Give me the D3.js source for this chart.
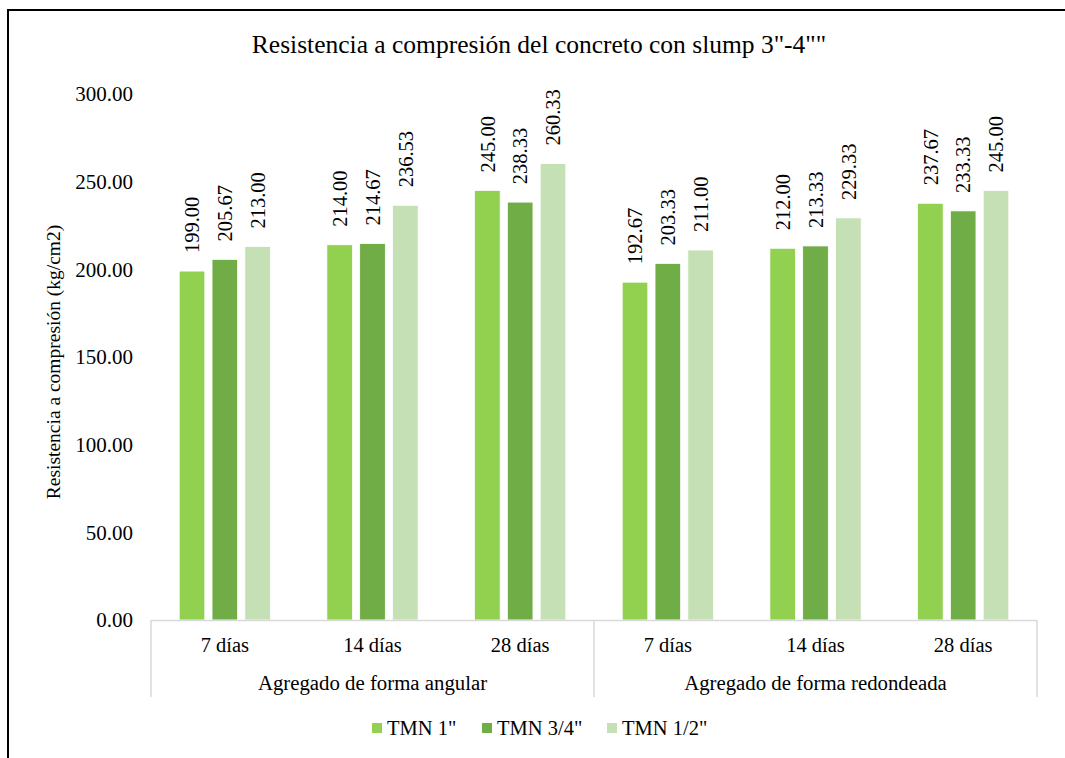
<!DOCTYPE html>
<html>
<head>
<meta charset="utf-8">
<script src="https://cdn.jsdelivr.net/npm/d3@7"></script>
<style>
  html, body { margin: 0; padding: 0; background: #fff; }
  svg text { font-family: "Liberation Serif", "Times New Roman", serif; fill: #000; }
</style>
</head>
<body>
<svg id="chart" width="1065" height="758"></svg>
<script>
const title = 'Resistencia a compresión del concreto con slump 3"-4""';
const yTitle = "Resistencia a compresión (kg/cm2)";
const groups = ["Agregado de forma angular", "Agregado de forma redondeada"];
const ages = ["7 días", "14 días", "28 días"];
const seriesNames = ['TMN 1"', 'TMN 3/4"', 'TMN 1/2"'];
const seriesColors = ["#92d050", "#70ad47", "#c5e0b4"];
const tmn1 = [199.00, 214.00, 245.00, 192.67, 212.00, 237.67];
const tmn34 = [205.67, 214.67, 238.33, 203.33, 213.33, 233.33];
const tmn12 = [213.00, 236.53, 260.33, 211.00, 229.33, 245.00];
const yTicks = [0, 50, 100, 150, 200, 250, 300];

const svg = d3.select("#chart");
const plot = { left: 151, right: 1037, top: 94, bottom: 620 };

// frame
svg.append("path")
  .attr("d", "M8,758 L8,10 L1065,10")
  .attr("fill", "none").attr("stroke", "#000").attr("stroke-width", 2);

// title
svg.append("text").attr("x", 539).attr("y", 53)
  .attr("text-anchor", "middle").style("font-size", "25.5px").text(title);

const cats = [];
groups.forEach((g, gi) => ages.forEach((a, ai) => cats.push({ key: gi + "|" + a, group: g, age: a, idx: gi * 3 + ai })));
const seriesVals = [tmn1, tmn34, tmn12];

const x0 = d3.scaleBand().domain(cats.map(c => c.key)).range([plot.left, plot.right]).padding(0);
const x1 = d3.scaleBand().domain(seriesNames).range([0, x0.bandwidth()]).paddingInner(0.22).paddingOuter(0.86);
const y = d3.scaleLinear().domain([0, 300]).range([plot.bottom, plot.top]);

// y tick labels
const yAxis = d3.axisLeft(y).tickValues(yTicks).tickFormat(d3.format(".2f")).tickSize(0).tickPadding(0);
const yg = svg.append("g").attr("transform", `translate(133,0)`).call(yAxis);
yg.select(".domain").remove();
yg.selectAll("text").style("font-size", "21px").style("font-family", '"Liberation Serif", serif').attr("fill", "#000").attr("dy", "0.33em");

// y title
svg.append("text")
  .attr("transform", `translate(60,362) rotate(-90)`)
  .attr("text-anchor", "middle").style("font-size", "19.5px").text(yTitle);

// bars
cats.forEach(c => {
  const g = svg.append("g").attr("transform", `translate(${x0(c.key)},0)`);
  seriesNames.forEach((s, si) => {
    const v = seriesVals[si][c.idx];
    g.append("rect")
      .attr("x", x1(s)).attr("width", x1.bandwidth())
      .attr("y", y(v)).attr("height", y(0) - y(v))
      .attr("fill", seriesColors[si]).attr("stroke", "#fff").attr("stroke-width", 0.75);
    g.append("text")
      .attr("transform", `translate(${x1(s) + x1.bandwidth() / 2},${y(v) - 18}) rotate(-90)`)
      .attr("text-anchor", "start").attr("dy", "0.35em")
      .style("font-size", "20.5px").text(d3.format(".2f")(v));
  });
});

// category axis
const axisColor = "#d9d9d9";
svg.append("line").attr("x1", plot.left).attr("x2", plot.right).attr("y1", plot.bottom + 0.5).attr("y2", plot.bottom + 0.5)
  .attr("stroke", axisColor).attr("stroke-width", 1.5);
[0, 3, 6].forEach(i => {
  const xx = i < 6 ? x0(cats[i].key) : plot.right;
  svg.append("line").attr("x1", xx).attr("x2", xx).attr("y1", plot.bottom).attr("y2", 697)
    .attr("stroke", axisColor).attr("stroke-width", 1.5);
});
cats.forEach(c => {
  svg.append("text").attr("x", x0(c.key) + x0.bandwidth() / 2).attr("y", 652)
    .attr("text-anchor", "middle").style("font-size", "20.5px").text(c.age);
});
groups.forEach((g, gi) => {
  const xs = x0(cats[gi * 3].key), xe = x0(cats[gi * 3 + 2].key) + x0.bandwidth();
  svg.append("text").attr("x", (xs + xe) / 2).attr("y", 690)
    .attr("text-anchor", "middle").style("font-size", "20.8px").text(g);
});

// legend
const legendX = [372, 482, 607];
seriesNames.forEach((s, i) => {
  svg.append("rect").attr("x", legendX[i]).attr("y", 723).attr("width", 10).attr("height", 10).attr("fill", seriesColors[i]);
  svg.append("text").attr("x", legendX[i] + 15).attr("y", 735).style("font-size", "20.5px").text(s);
});
</script>
</body>
</html>
